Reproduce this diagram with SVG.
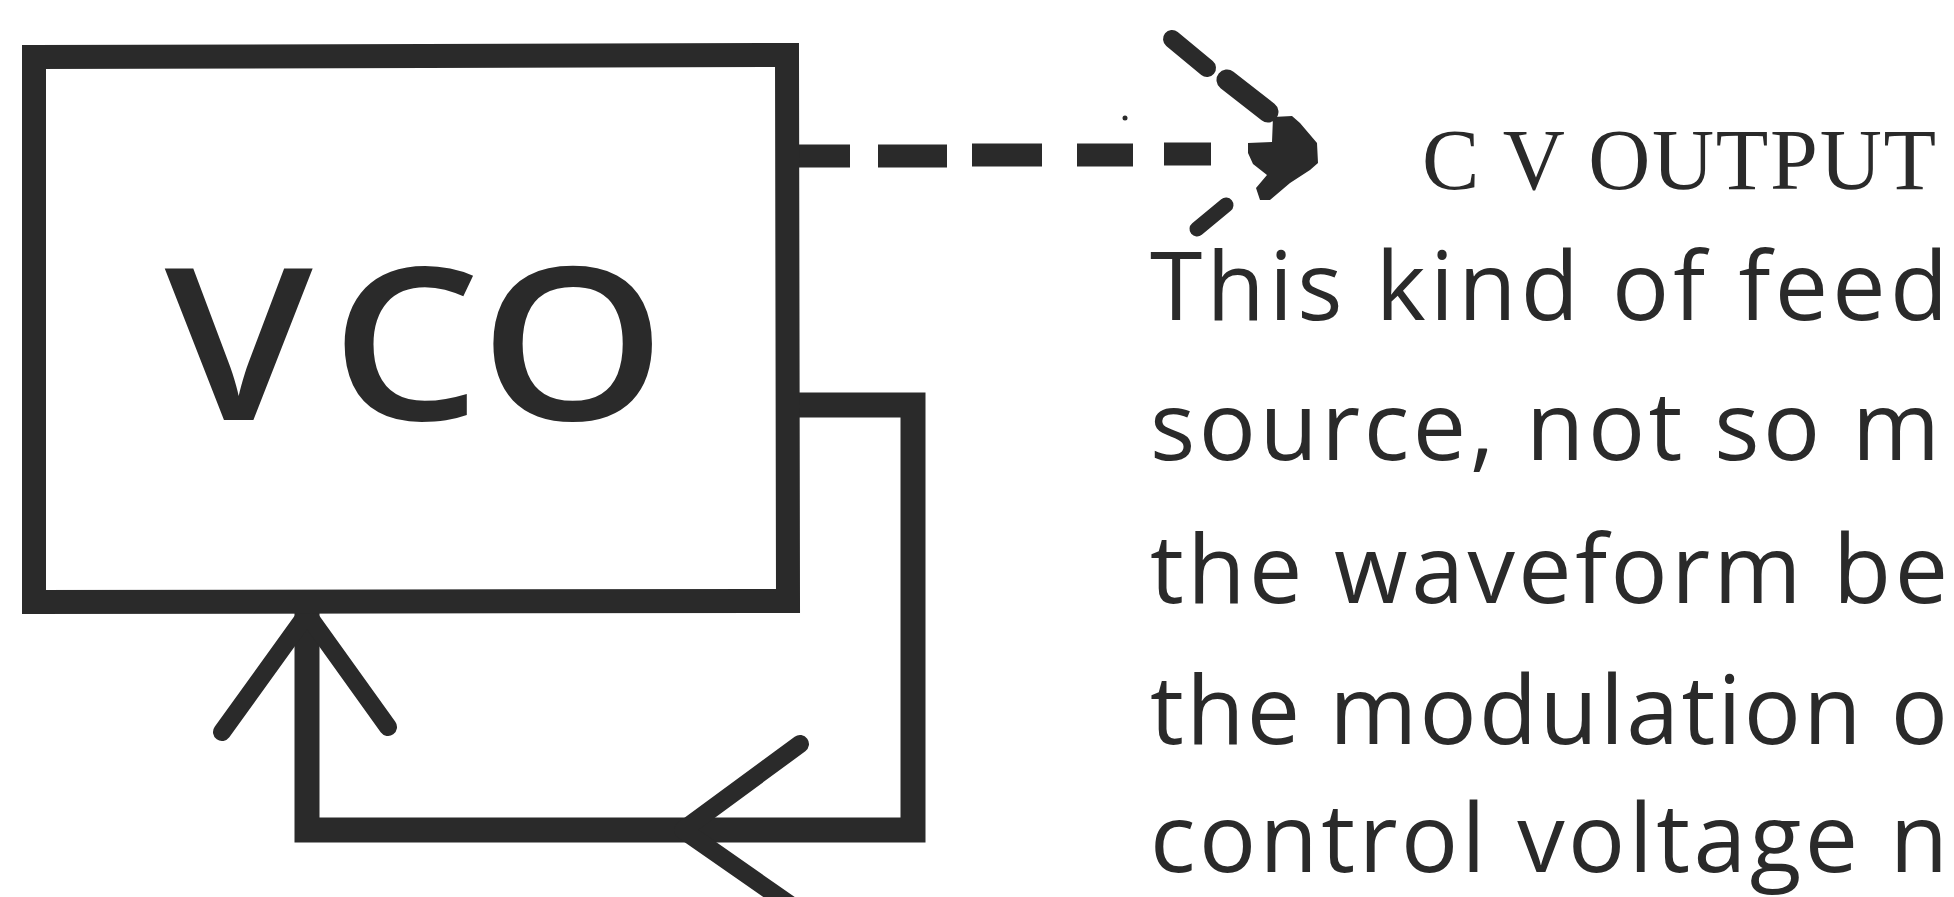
<svg xmlns="http://www.w3.org/2000/svg" width="1954" height="897" viewBox="0 0 1954 897">
<style>
.ln{fill:none;stroke:#2a2a2a;stroke-linejoin:miter;stroke-linecap:square}
.bar{fill:none;stroke:#2a2a2a;stroke-linejoin:round;stroke-linecap:round}
.ink{fill:#2a2a2a}
.p{font-family:"Open Sans","Noto Sans",sans-serif;font-size:95px;fill:#2a2a2a}
</style>
<rect width="1954" height="897" fill="#ffffff"/>
<g id="connectors">
  <path class="ln" d="M797,405 H913 V830 H307 V612" stroke-width="25"/>
  <path class="bar" d="M222,732 L307,614 L388,727" stroke-width="18"/>
  <path class="bar" d="M800,744 L683,830 L812,920" stroke-width="18"/>
  <path fill="none" stroke="#2a2a2a" stroke-width="23" d="M797,156 H850 M878,156 H947 M972,155 H1042 M1077,155 H1133 M1164,154 H1211"/>
  <polygon class="ink" points="1248,143 1272,142 1273,117 1292,116 1300,123 1317,143 1318,163 1310,170 1290,183 1270,200 1260,200 1256,188 1267,175 1253,164 1248,153"/>
  <path class="bar" d="M1227,80 L1268,112" stroke-width="21"/>
  <path class="bar" d="M1172,39 L1207,68" stroke-width="18"/>
  <path class="bar" d="M1197,229 L1226,205" stroke-width="15"/>
  <circle class="ink" cx="1125" cy="118" r="2.5"/>
</g>
<g id="vco">
  <path class="ln" d="M34,57 L787,55 L788,601 L34,602 Z" stroke-width="24"/>
  <text transform="translate(0,420) scale(1.12,1)" x="147 295 428" y="0" font-family="Open Sans, Noto Sans, sans-serif" font-weight="600" font-size="212" fill="#2a2a2a">VCO</text>
</g>
<g id="cv-output">
  <text x="1422" y="189" font-family="Liberation Serif, serif" font-size="86" fill="#2a2a2a" textLength="514" lengthAdjust="spacing">C V OUTPUT</text>
</g>
<g id="description">
  <text class="p" x="1150" y="320" textLength="798" lengthAdjust="spacing">This kind of feed</text>
  <text class="p" x="1150" y="460" textLength="790" lengthAdjust="spacing">source, not so m</text>
  <text class="p" x="1150" y="603" textLength="798" lengthAdjust="spacing">the waveform be</text>
  <text class="p" x="1150" y="744" textLength="798" lengthAdjust="spacing">the modulation o</text>
  <text class="p" x="1150" y="872" textLength="798" lengthAdjust="spacing">control voltage n</text>
</g>
</svg>
